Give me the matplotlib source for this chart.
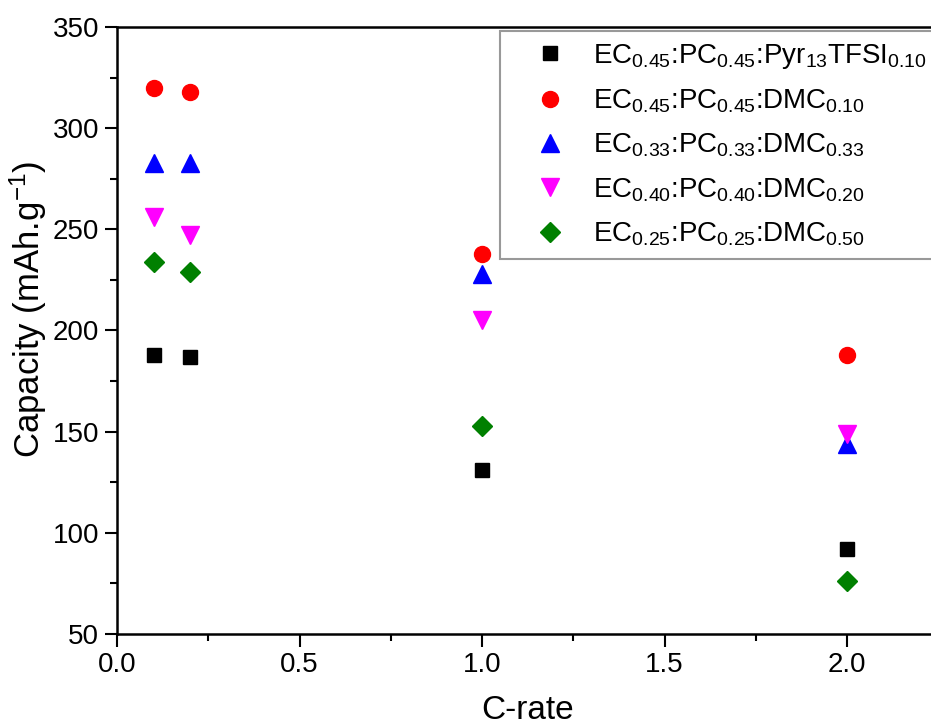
import matplotlib
matplotlib.use("Agg")
import matplotlib.pyplot as plt
from matplotlib.ticker import MultipleLocator

plt.rcParams["font.family"] = ["Liberation Sans", "DejaVu Sans"]
plt.rcParams["mathtext.fontset"] = "custom"
plt.rcParams["mathtext.rm"] = "Liberation Sans"
plt.rcParams["mathtext.it"] = "Liberation Sans:italic"

# C-rates
c_rate = [0.1, 0.2, 1.0, 2.0]

# capacities (mAh/g) for each electrolyte
pyr13 = [188, 187, 131, 92]
dmc_010 = [320, 318, 238, 188]
dmc_033 = [283, 283, 228, 144]
dmc_020 = [256, 247, 205, 149]
dmc_050 = [234, 229, 153, 76]

labels = [
    r"EC$_{0.45}$:PC$_{0.45}$:Pyr$_{13}$TFSI$_{0.10}$",
    r"EC$_{0.45}$:PC$_{0.45}$:DMC$_{0.10}$",
    r"EC$_{0.33}$:PC$_{0.33}$:DMC$_{0.33}$",
    r"EC$_{0.40}$:PC$_{0.40}$:DMC$_{0.20}$",
    r"EC$_{0.25}$:PC$_{0.25}$:DMC$_{0.50}$",
]

fig = plt.figure(figsize=(9.31, 7.27), dpi=100)
# axes runs past the right edge of the figure (cropped like the original)
ax = fig.add_axes([117 / 931, 1 - 634 / 727, (2.25 * 365) / 931, 607 / 727])

ax.plot(c_rate, pyr13, "s", color="black", ms=10, label=labels[0])
ax.plot(c_rate, dmc_010, "o", color="red", ms=11.5, label=labels[1])
ax.plot(c_rate, dmc_033, "^", color="blue", ms=13, label=labels[2])
ax.plot(c_rate, dmc_020, "v", color="magenta", ms=13, label=labels[3])
ax.plot(c_rate, dmc_050, "D", color="green", ms=10.5, label=labels[4])

ax.set_xlim(0, 2.25)
ax.set_ylim(50, 350)
ax.xaxis.set_major_locator(MultipleLocator(0.5))
ax.xaxis.set_minor_locator(MultipleLocator(0.25))
ax.yaxis.set_major_locator(MultipleLocator(50))
ax.yaxis.set_minor_locator(MultipleLocator(25))
ax.tick_params(which="major", direction="out", length=9, width=1.5, labelsize=20, pad=4)
ax.tick_params(which="minor", direction="out", length=5, width=1.5)

for s in ax.spines.values():
    s.set_linewidth(1.8)

ax.set_xlabel("C-rate", fontsize=24, labelpad=12)
ax.set_ylabel("Capacity (mAh.g$^{-1}$)", fontsize=25)
ax.yaxis.set_label_coords(-0.083, 0.535)

leg = ax.legend(loc="upper left", bbox_to_anchor=(500 / 931, 1 - 31 / 727),
                bbox_transform=fig.transFigure, fontsize=20, frameon=True,
                fancybox=False, edgecolor="gray", handletextpad=0.15,
                borderpad=0.4, borderaxespad=0, labelspacing=0.6,
                handlelength=2.8)
leg.get_frame().set_linewidth(1.5)

fig.savefig("out.png", dpi=100)
